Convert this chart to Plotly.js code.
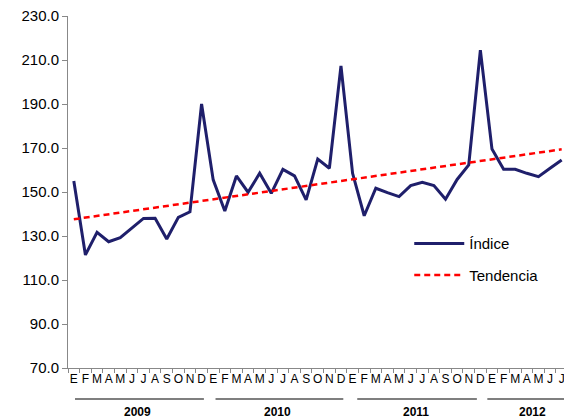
<!DOCTYPE html>
<html>
<head>
<meta charset="utf-8">
<script src="https://cdn.plot.ly/plotly-3.0.1.min.js"></script>
<style>html,body{margin:0;padding:0;background:#fff;}#chart{width:564px;height:420px;}</style>
</head>
<body>
<div id="chart"></div>
<script>
var years = ['2009', '2010', '2011', '2012'];
var monthLetters = ['E','F','M','A','M','J','J','A','S','O','N','D'];
var indice = [
  155.0, 121.4, 131.7, 127.4, 129.2, 133.8, 138.0, 138.1, 128.6, 138.5, 141.0, 190.0,
  155.5, 141.4, 157.3, 149.9, 158.5, 149.4, 160.3, 157.3, 146.4, 165.0, 160.8, 207.3,
  158.5, 139.2, 151.7, 149.7, 147.9, 152.9, 154.4, 152.9, 146.7, 155.7, 162.3, 214.5,
  169.5, 160.3, 160.3, 158.5, 157.0, 160.8, 164.5
];
var trendEnds = [137.6, 169.4];

var n = indice.length;
var xs = indice.map(function(_, i){ return i; });
var labels = xs.map(function(i){ return monthLetters[i % 12]; });

var traces = [
  {x: xs, y: indice, type: 'scatter', mode: 'lines', name: 'Índice', legendgroup: 'a',
   line: {color: '#1f1f6b', width: 3}},
  {x: [0, n - 1], y: trendEnds, type: 'scatter', mode: 'lines', name: 'Tendencia', legendgroup: 'b',
   line: {color: '#ff0000', width: 2.5, dash: '6px,4px'}}
];

var shapes = [];
var annotations = [];
var lineSpans = [[0.1, 11.2], [12.2, 23.2], [24.4, 34.7], [35.6, 44]];
var labelCenters = [5.5, 17.5, 29.5, 39.5];
years.forEach(function(yr, k){
  shapes.push({type: 'line', xref: 'x', yref: 'paper',
    x0: lineSpans[k][0], x1: lineSpans[k][1], y0: -0.088, y1: -0.088,
    line: {color: '#000', width: 1.2}});
  annotations.push({text: '<b>' + yr + '</b>', xref: 'x', yref: 'paper',
    x: labelCenters[k], y: -0.125, showarrow: false,
    font: {family: 'Liberation Sans, Arial', size: 12, color: '#000'},
    xanchor: 'center', yanchor: 'middle'});
});

var layout = {
  width: 564, height: 420,
  margin: {l: 68, r: 0, t: 16, b: 52},
  paper_bgcolor: '#fff', plot_bgcolor: '#fff',
  font: {family: 'Liberation Sans, Arial', color: '#000'},
  showlegend: true,
  legend: {x: 0.688, y: 0.40, xanchor: 'left', yanchor: 'top',
    font: {size: 15, family: 'Liberation Sans, Arial'}, bgcolor: 'rgba(0,0,0,0)',
    itemwidth: 50, traceorder: 'grouped', tracegroupgap: 9},
  xaxis: {
    range: [-0.5, 42.2], showgrid: false, zeroline: false,
    showline: true, linecolor: '#888', linewidth: 1,
    tickmode: 'array', tickvals: xs, ticktext: labels, ticks: '',
    ticklabeloverflow: 'allow',
    tickfont: {size: 12, family: 'Liberation Sans, Arial'},
    minor: {tick0: -0.5, dtick: 1, ticks: 'outside', ticklen: 4, tickcolor: '#888', showgrid: false},
    fixedrange: true
  },
  yaxis: {
    range: [70, 230], tick0: 70, dtick: 20, tickformat: '.1f',
    showgrid: false, zeroline: false, showline: true, linecolor: '#888', linewidth: 1,
    ticks: 'outside', ticklen: 5, tickcolor: '#888',
    tickfont: {size: 15, family: 'Liberation Sans, Arial'},
    fixedrange: true
  },
  shapes: shapes,
  annotations: annotations
};

Plotly.newPlot('chart', traces, layout, {displayModeBar: false, staticPlot: true});
</script>
</body>
</html>
